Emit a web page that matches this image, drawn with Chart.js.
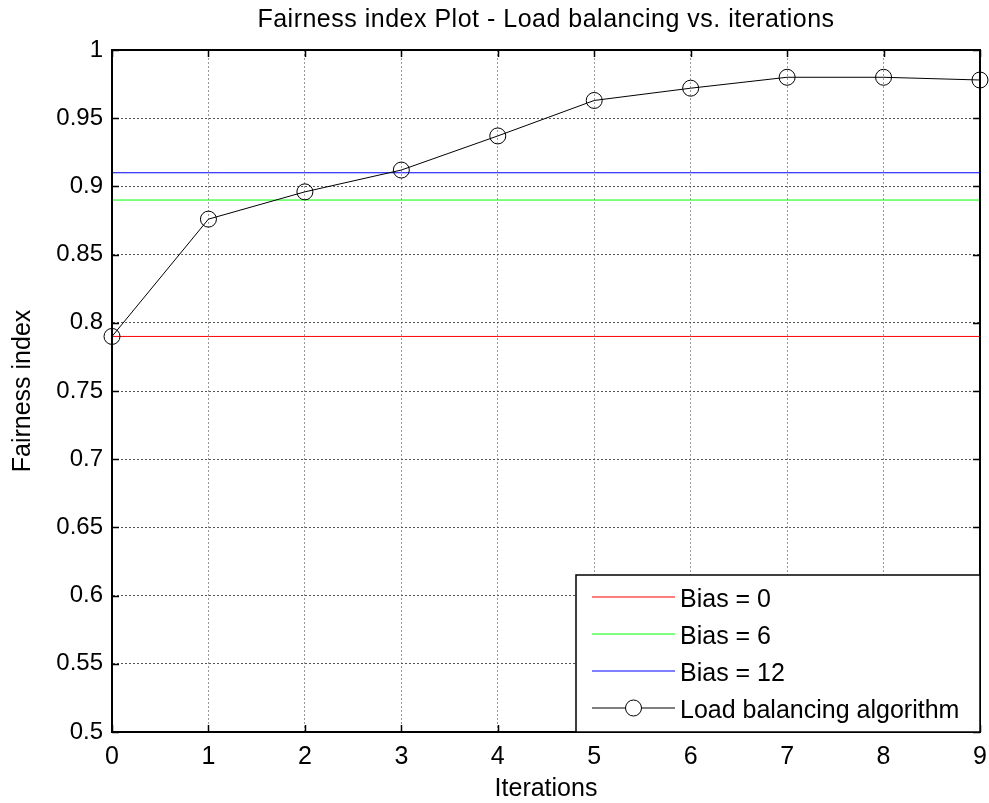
<!DOCTYPE html>
<html>
<head>
<meta charset="utf-8">
<title>Fairness index Plot</title>
<script src="https://cdn.jsdelivr.net/npm/chart.js@4.4.1/dist/chart.umd.min.js"></script>
<style>
    html, body { margin: 0; padding: 0; background: #fff; }
    #wrap { width: 989px; height: 803px; }
</style>
</head>
<body>
<div id="wrap"><canvas id="fairnessChart" width="989" height="803"></canvas></div>
<script>
// Iterations on the x axis
const iterations = ['0', '1', '2', '3', '4', '5', '6', '7', '8', '9'];

// Fixed-bias reference levels (one value per iteration)
const biasZero   = [0.79, 0.79, 0.79, 0.79, 0.79, 0.79, 0.79, 0.79, 0.79, 0.79];
const biasSix    = [0.89, 0.89, 0.89, 0.89, 0.89, 0.89, 0.89, 0.89, 0.89, 0.89];
const biasTwelve = [0.91, 0.91, 0.91, 0.91, 0.91, 0.91, 0.91, 0.91, 0.91, 0.91];

// Fairness index reached by the load balancing algorithm
const loadBalancing = [0.790, 0.876, 0.896, 0.912, 0.937, 0.963, 0.972, 0.980, 0.980, 0.978];

// Y axis range
const yMin = 0.5;
const yMax = 1;
const yStep = 0.05;

const FONT = 'Liberation Sans, Arial, sans-serif';
const TITLE = 'Fairness index Plot - Load balancing vs. iterations';

// Title centred over the axes rather than the whole canvas
const axesTitle = {
    id: 'axesTitle',
    afterDraw(chart, args, opts) {
        const { ctx, chartArea: a } = chart;
        ctx.save();
        ctx.font = opts.font;
        ctx.letterSpacing = opts.spacing;
        ctx.fillStyle = '#000';
        ctx.textAlign = 'center';
        ctx.textBaseline = 'middle';
        ctx.fillText(opts.text, (a.left + a.right) / 2, opts.y);
        ctx.restore();
    }
};

// Black frame around the axes with short inward tick marks (matlab style)
const axesFrame = {
    id: 'axesFrame',
    afterDatasetsDraw(chart) {
        const { ctx, chartArea: a } = chart;
        const xs = chart.scales.x, ys = chart.scales.y;
        const len = 7;
        ctx.save();
        ctx.strokeStyle = '#000';
        ctx.lineWidth = 1.5;
        ctx.beginPath();
        xs.ticks.forEach((t, i) => {
            const px = Math.round(xs.getPixelForTick(i)) + 0.5;
            ctx.moveTo(px, a.bottom); ctx.lineTo(px, a.bottom - len);
            ctx.moveTo(px, a.top); ctx.lineTo(px, a.top + len);
        });
        ys.ticks.forEach((t, i) => {
            const py = Math.round(ys.getPixelForTick(i)) + 0.5;
            ctx.moveTo(a.left, py); ctx.lineTo(a.left + len, py);
            ctx.moveTo(a.right, py); ctx.lineTo(a.right - len, py);
        });
        ctx.stroke();
        ctx.lineWidth = 2;
        ctx.strokeRect(a.left, a.top, a.right - a.left, a.bottom - a.top);
        ctx.restore();
    }
};

// Boxed legend in the lower right corner of the plot area
const boxLegend = {
    id: 'boxLegend',
    afterDraw(chart, args, opts) {
        const { ctx, chartArea: a } = chart;
        const w = opts.width, h = opts.height;
        const left = a.right - w, top = a.bottom - h;
        ctx.save();
        ctx.fillStyle = '#fff';
        ctx.fillRect(left, top, w, h);
        ctx.strokeStyle = '#000';
        ctx.lineWidth = 1.5;
        ctx.strokeRect(left, top, w, h);
        ctx.font = opts.font;
        ctx.textBaseline = 'middle';
        ctx.textAlign = 'left';
        chart.data.datasets.forEach((ds, i) => {
            const rowY = top + opts.firstRow + i * opts.rowPitch;
            const lineY = rowY - 3;
            const x0 = left + opts.sampleStart, x1 = left + opts.sampleEnd;
            ctx.strokeStyle = ds.borderColor;
            ctx.lineWidth = 1.2;
            ctx.beginPath();
            ctx.moveTo(x0, lineY);
            ctx.lineTo(x1, lineY);
            ctx.stroke();
            if (ds.pointRadius > 0) {
                ctx.lineWidth = 1;
                ctx.beginPath();
                ctx.arc((x0 + x1) / 2, lineY, ds.pointRadius, 0, Math.PI * 2);
                ctx.fillStyle = '#fff';
                ctx.fill();
                ctx.stroke();
            }
            ctx.fillStyle = '#000';
            ctx.fillText(ds.label, left + opts.textStart, rowY);
        });
        ctx.restore();
    }
};

const ctx = document.getElementById('fairnessChart').getContext('2d');

new Chart(ctx, {
    type: 'line',
    data: {
        labels: iterations,
        datasets: [
            {
                label: 'Bias = 0',
                data: biasZero,
                borderColor: '#ff0000',
                borderWidth: 1,
                pointRadius: 0
            },
            {
                label: 'Bias = 6',
                data: biasSix,
                borderColor: '#00ff00',
                borderWidth: 1,
                pointRadius: 0
            },
            {
                label: 'Bias = 12',
                data: biasTwelve,
                borderColor: '#0000ff',
                borderWidth: 1,
                pointRadius: 0
            },
            {
                label: 'Load balancing algorithm',
                data: loadBalancing,
                borderColor: '#000',
                borderWidth: 1,
                pointStyle: 'circle',
                pointRadius: 8,
                pointBorderColor: '#000',
                pointBorderWidth: 1,
                pointBackgroundColor: 'rgba(0,0,0,0)',
                clip: false,
                order: -1
            }
        ]
    },
    options: {
        responsive: false,
        animation: false,
        layout: { padding: { left: 0, right: 9, top: 50, bottom: 0 } },
        plugins: {
            legend: { display: false },
            tooltip: { enabled: false },
            title: { display: false },
            axesTitle: {
                text: TITLE,
                y: 20,
                font: '25px ' + FONT,
                spacing: '0.5px'
            },
            boxLegend: {
                width: 404,
                height: 157,
                firstRow: 25,
                rowPitch: 37,
                sampleStart: 16,
                sampleEnd: 99,
                textStart: 104,
                font: '25px ' + FONT
            }
        },
        scales: {
            x: {
                type: 'category',
                offset: false,
                afterFit(scale) {
                    scale.height = 71;
                    // let the end labels hang over the layout padding
                    scale.paddingLeft = 0;
                    scale.paddingRight = 0;
                },
                grid: { color: '#9a9a9a', lineWidth: 1, drawTicks: false },
                border: { display: true, color: '#000', width: 2, dash: [2, 2] },
                ticks: {
                    color: '#000',
                    padding: 10,
                    maxRotation: 0,
                    font: { family: FONT, size: 25 }
                },
                title: {
                    display: true,
                    text: 'Iterations',
                    color: '#000',
                    font: { family: FONT, size: 25, lineHeight: 1.1 },
                    padding: { top: 0, bottom: 0 }
                }
            },
            y: {
                min: yMin,
                max: yMax,
                afterFit(scale) {
                    scale.width = 112;
                    scale.paddingTop = 0;
                    scale.paddingBottom = 0;
                },
                grid: { color: '#555', lineWidth: 1, drawTicks: false },
                border: { display: true, color: '#000', width: 2, dash: [2, 2] },
                ticks: {
                    stepSize: yStep,
                    color: '#000',
                    padding: 9,
                    font: { family: FONT, size: 24 },
                    callback: (v) => parseFloat(v.toFixed(2)).toString()
                },
                title: {
                    display: true,
                    text: 'Fairness index',
                    color: '#000',
                    font: { family: FONT, size: 25, lineHeight: 1.2 },
                    padding: { top: 8, bottom: 0 }
                }
            }
        }
    },
    plugins: [axesFrame, boxLegend, axesTitle]
});
</script>
</body>
</html>
